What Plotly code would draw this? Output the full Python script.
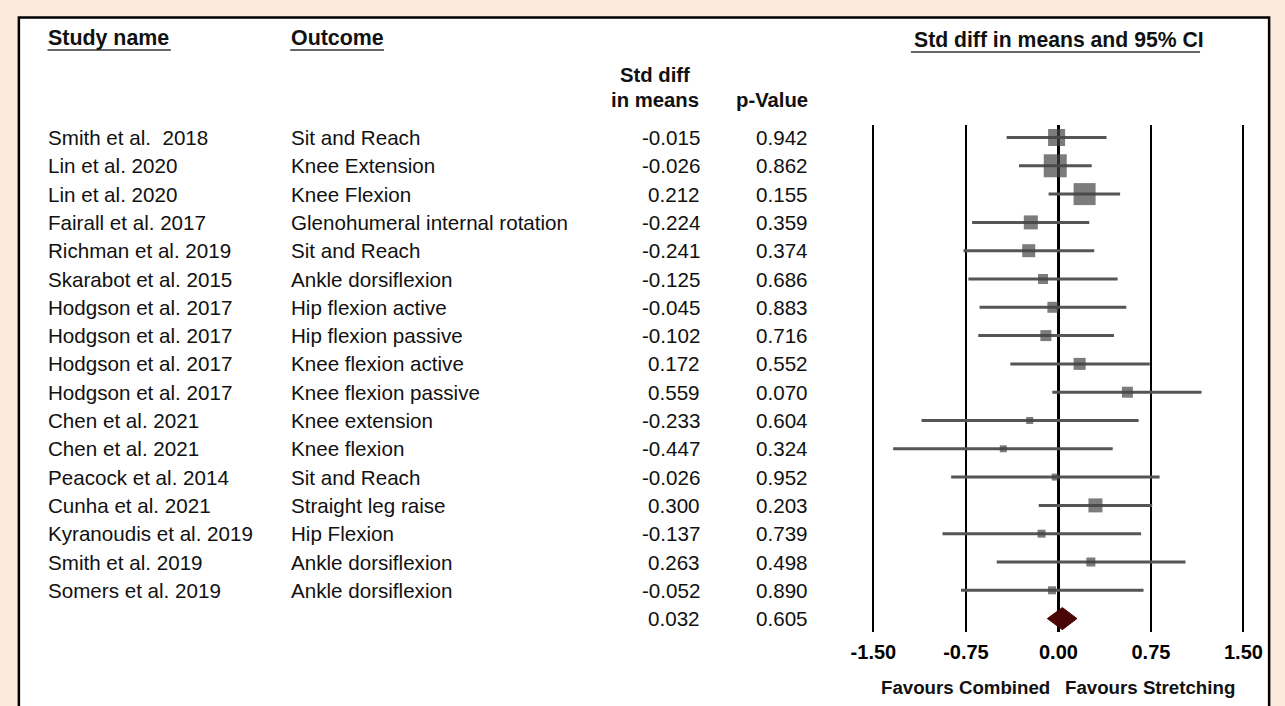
import plotly.graph_objects as go

# ---------------- data ----------------
studies = ["Smith et al.\u00a0 2018", "Lin et al. 2020", "Lin et al. 2020", "Fairall et al. 2017",
           "Richman et al. 2019", "Skarabot et al. 2015", "Hodgson et al. 2017", "Hodgson et al. 2017",
           "Hodgson et al. 2017", "Hodgson et al. 2017", "Chen et al. 2021", "Chen et al. 2021",
           "Peacock et al. 2014", "Cunha et al. 2021", "Kyranoudis et al. 2019", "Smith et al. 2019",
           "Somers et al. 2019"]
outcomes = ["Sit and Reach", "Knee Extension", "Knee Flexion", "Glenohumeral internal rotation",
            "Sit and Reach", "Ankle dorsiflexion", "Hip flexion active", "Hip flexion passive",
            "Knee flexion active", "Knee flexion passive", "Knee extension", "Knee flexion",
            "Sit and Reach", "Straight leg raise", "Hip Flexion", "Ankle dorsiflexion",
            "Ankle dorsiflexion"]
std_diff = [-0.015, -0.026, 0.212, -0.224, -0.241, -0.125, -0.045, -0.102, 0.172, 0.559,
            -0.233, -0.447, -0.026, 0.300, -0.137, 0.263, -0.052]
p_values = [0.942, 0.862, 0.155, 0.359, 0.374, 0.686, 0.883, 0.716, 0.552, 0.070,
            0.604, 0.324, 0.952, 0.203, 0.739, 0.498, 0.890]
ci_lower = [-0.42, -0.32, -0.08, -0.70, -0.77, -0.73, -0.64, -0.65, -0.39, -0.05,
            -1.11, -1.34, -0.87, -0.16, -0.94, -0.50, -0.79]
ci_upper = [0.39, 0.27, 0.50, 0.25, 0.29, 0.48, 0.55, 0.45, 0.74, 1.16,
            0.65, 0.44, 0.82, 0.76, 0.67, 1.03, 0.69]
weight_size = [17, 23, 22, 14, 13, 10, 11, 11, 12, 11, 7, 7, 7, 14, 8, 9, 8]

summary_est = 0.032
summary_p = 0.605
summary_lower = -0.09
summary_upper = 0.15

tick_values = [-1.50, -0.75, 0.00, 0.75, 1.50]
tick_labels = ["-1.50", "-0.75", "0.00", "0.75", "1.50"]

# ---------------- layout helpers ----------------
W, H = 1285, 706
def px(x):
    return x / W
def py(y):
    return 1 - y / H

FONT = "Liberation Sans, Arial, sans-serif"
TXT = "#111111"

n = len(studies)
rows = list(range(1, n + 1))
summary_row = n + 1

# y axis: row k at pixel 137.5 + (k-1)*28.3
row_px0, row_step = 137.5, 28.3
top_px, bot_px = 125, 632
y_top = 1 + (top_px - row_px0) / row_step
y_bot = 1 + (bot_px - row_px0) / row_step

# x axis for the forest plot
zero_px, unit_px = 1062.5, 375 / 3.0
x_lo, x_hi = -1.6, 1.6

COL_STUDY, COL_OUTCOME, COL_SMD, COL_P = 38, 284, 700, 810

fig = go.Figure()

# study estimates with CIs
fig.add_trace(go.Scatter(
    x=std_diff, y=rows, mode="markers",
    marker=dict(symbol="square", size=weight_size, color="#444444", line=dict(width=0)),
    error_x=dict(type="data", symmetric=False,
                 array=[u - e for u, e in zip(ci_upper, std_diff)],
                 arrayminus=[e - l for l, e in zip(ci_lower, std_diff)],
                 width=0, thickness=3, color="#555555"),
    hoverinfo="skip", showlegend=False, cliponaxis=False))

# summary diamond
dh = 0.39
fig.add_trace(go.Scatter(
    x=[summary_lower, summary_est, summary_upper, summary_est, summary_lower],
    y=[summary_row, summary_row - dh, summary_row, summary_row + dh, summary_row],
    mode="lines", fill="toself", fillcolor="#4a0505",
    line=dict(color="#4a0505", width=1), hoverinfo="skip", showlegend=False))

annotations = []
def add_text(text, x, y, yref="paper", xanchor="left", size=20.6, bold=False):
    annotations.append(dict(
        text=f"<b>{text}</b>" if bold else text, x=x, y=y, xref="paper", yref=yref,
        xanchor=xanchor, yanchor="middle", showarrow=False, borderpad=0,
        font=dict(family=FONT, size=size, color=TXT)))

for i in range(n):
    r = rows[i]
    add_text(studies[i], px(COL_STUDY), r, yref="y")
    add_text(outcomes[i], px(COL_OUTCOME), r, yref="y")
    add_text(f"{std_diff[i]:.3f}", px(COL_SMD), r, yref="y", xanchor="right")
    add_text(f"{p_values[i]:.3f}", px(COL_P), r, yref="y", xanchor="right")
add_text(f"{summary_est:.3f}", px(COL_SMD), summary_row, yref="y", xanchor="right")
add_text(f"{summary_p:.3f}", px(COL_P), summary_row, yref="y", xanchor="right")

# headers
add_text("Study name", px(COL_STUDY), py(38), size=21.4, bold=True)
add_text("Outcome", px(COL_OUTCOME), py(38), size=21.4, bold=True)
add_text("Std diff in means and 95% CI", px(915), py(39), size=21.2, bold=True)
add_text("Std diff", px(654), py(75), xanchor="center", size=20.3, bold=True)
add_text("in means", px(654), py(100), xanchor="center", size=20.3, bold=True)
add_text("p-Value", px(COL_P), py(100), xanchor="right", size=20.3, bold=True)

# axis captions
add_text("Favours Combined", px(968), py(687), xanchor="center", size=18.7, bold=True)
add_text("Favours Stretching", px(1155), py(687), xanchor="center", size=18.7, bold=True)

shapes = [
    # white panel with border
    dict(type="rect", xref="paper", yref="paper", x0=px(9), x1=px(1276), y0=-0.2, y1=py(17.5),
         line=dict(color="black", width=2.5), fillcolor="white", layer="below"),
]
# header underlines
for x0, x1, yy in [(38, 163, 50), (284, 379, 50), (913, 1206, 52)]:
    shapes.append(dict(type="line", xref="paper", yref="paper", x0=px(x0), x1=px(x1),
                       y0=py(yy), y1=py(yy), line=dict(color="#333333", width=1.5)))

fig.update_layout(
    width=W, height=H,
    margin=dict(l=0, r=0, t=0, b=0),
    paper_bgcolor="#fbe9dc",
    plot_bgcolor="rgba(0,0,0,0)",
    showlegend=False,
    annotations=annotations,
    shapes=shapes,
    xaxis=dict(
        domain=[px(zero_px + x_lo * unit_px), px(zero_px + x_hi * unit_px)],
        range=[x_lo, x_hi],
        tickvals=tick_values, ticktext=tick_labels,
        tickfont=dict(family=FONT, size=20, color="black", weight="bold"),
        ticks="", showline=False,
        showgrid=True, gridcolor="black", gridwidth=2,
        zeroline=True, zerolinecolor="black", zerolinewidth=2.5,
        ticklabelstandoff=6,
        fixedrange=True,
    ),
    yaxis=dict(
        domain=[py(bot_px), py(top_px)],
        range=[y_bot, y_top],
        visible=False, showgrid=False, zeroline=False, fixedrange=True,
    ),
)

fig.write_html(
    "out.html",
    config={"displayModeBar": False},
    post_script="document.body.style.margin='0';document.body.style.overflow='hidden';",
)
